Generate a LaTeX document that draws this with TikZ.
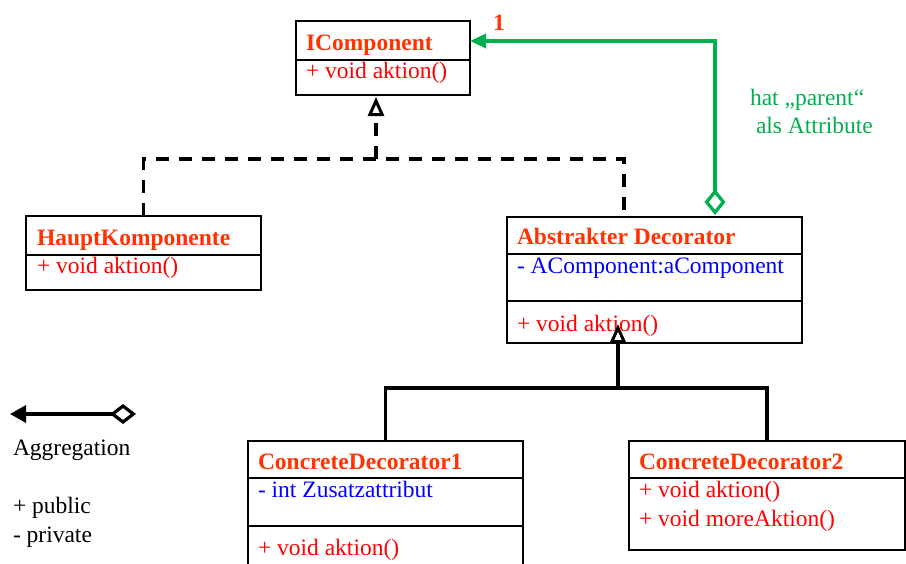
\documentclass[tikz,border=0pt]{standalone}
\usepackage{fontspec}
\setmainfont{Liberation Serif}
\usetikzlibrary{arrows.meta}
\definecolor{titlecol}{HTML}{FF3300}
\definecolor{methcol}{HTML}{FF0000}
\definecolor{attrcol}{HTML}{0000FF}
\definecolor{greencol}{HTML}{00B050}
\begin{document}
\begin{tikzpicture}[x=1pt,y=-1pt,
  every node/.style={font=\fontsize{23.5}{28}\selectfont, inner sep=0pt, outer sep=0pt},
  umlbox/.style={draw=black, line width=2.7pt, rectangle, anchor=north west},
  divider/.style={draw=black, line width=2.8pt},
  ttl/.style={anchor=base west, text=titlecol, font=\fontsize{23.5}{28}\selectfont\bfseries},
  meth/.style={anchor=base west, text=methcol},
  attr/.style={anchor=base west, text=attrcol},
  plain/.style={anchor=base west, text=black},
  greentext/.style={anchor=base west, text=greencol},
  realize/.style={draw=black, line width=3.3pt, dash pattern=on 13pt off 10pt},
  inherit/.style={draw=black, line width=3.5pt},
  opentri/.style={-{Triangle[open,length=19pt,width=16pt,line width=3pt]}},
  aggr/.style={draw=greencol, line width=3.3pt},
  legendline/.style={draw=black, line width=3.2pt}
]
\useasboundingbox (0,0) rectangle (906,563);
\clip (0,0) rectangle (906,563);
\fill[white] (0,0) rectangle (906,563);

% IComponent
\node[umlbox, minimum width=174pt, minimum height=74pt] (ic) at (296,21) {};
\draw[divider] (296,60) -- (470,60);
\node[ttl] (ict) at (306,50) {IComponent};
\node[meth] (icm) at (306,78) {+ void aktion()};
\node[ttl] (one) at (493,30) {1};

% HauptKomponente
\node[umlbox, minimum width=235pt, minimum height=74pt] (hk) at (26,216) {};
\draw[divider] (26,255) -- (261,255);
\node[ttl] (hkt) at (37,245) {HauptKomponente};
\node[meth] (hkm) at (37,273) {+ void aktion()};

% Abstrakter Decorator
\node[umlbox, minimum width=295pt, minimum height=126pt] (ad) at (507,217) {};
\draw[divider] (507,254) -- (802,254);
\draw[divider] (507,301) -- (802,301);
\node[ttl] (adt) at (517,244) {Abstrakter Decorator};
\node[attr] (ada) at (517,273) {- AComponent:aComponent};
\node[meth] (adm) at (517,331) {+ void aktion()};

% ConcreteDecorator1
\node[umlbox, minimum width=275pt, minimum height=140pt] (cd1) at (248,441) {};
\draw[divider] (248,478) -- (523,478);
\draw[divider] (248,526) -- (523,526);
\node[ttl] (cd1t) at (258,469) {ConcreteDecorator1};
\node[attr] (cd1a) at (258,497) {- int Zusatzattribut};
\node[meth] (cd1m) at (258,555) {+ void aktion()};

% ConcreteDecorator2
\node[umlbox, minimum width=276pt, minimum height=109pt] (cd2) at (629,441) {};
\draw[divider] (629,478) -- (905,478);
\node[ttl] (cd2t) at (639,469) {ConcreteDecorator2};
\node[meth] (cd2m1) at (639,497) {+ void aktion()};
\node[meth] (cd2m2) at (639,526) {+ void moreAktion()};

% realization (dashed)
\coordinate (dj) at (376,159);
\coordinate (adx) at (624,0);
\draw[realize] (hk.north) |- (dj) -| (ad.north -| adx);
\draw[realize] (dj) -- ([yshift=-21pt]ic.south -| dj);
\draw[draw=black, line width=3pt, opentri] ([yshift=-20pt]ic.south -| dj) -- ([yshift=-2pt]ic.south -| dj);

% inheritance (solid)
\coordinate (sj) at (618,388);
\coordinate (atip) at (618,324);
\draw[inherit] (cd1.north) |- (sj) -| (cd2.north);
\draw[inherit, opentri] (sj) -- (atip);

% aggregation (green)
\coordinate (gc) at (715,41);
\draw[aggr, {Diamond[open,length=26pt,width=21pt]}-{Triangle[length=16pt,width=14pt]}]
  ([yshift=2pt]ad.north -| gc) -- (gc) -- (ic.east |- gc);
\node[greentext] (g1) at (750,105) {hat „parent“};
\node[greentext] (g2) at (756,133) {als Attribute};

% legend
\coordinate (la) at (10,414);
\coordinate (lb) at (136,414);
\draw[legendline, {Triangle[length=16pt,width=17pt]}-{Diamond[open,length=26pt,width=20pt]}] (la) -- (lb);
\node[plain] (lagg) at (13,455) {Aggregation};
\node[plain] (lpub) at (13,513) {+ public};
\node[plain] (lpriv) at (13,542) {- private};
\end{tikzpicture}
\end{document}
